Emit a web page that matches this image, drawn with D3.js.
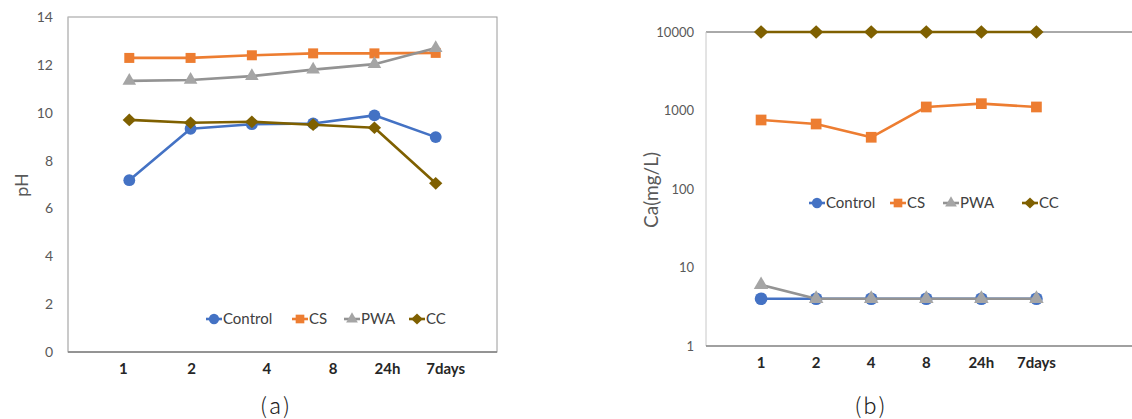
<!DOCTYPE html>
<html>
<head>
<meta charset="utf-8">
<script src="https://cdn.jsdelivr.net/npm/d3@7"></script>
<style>
  html, body { margin: 0; padding: 0; background: #fff; }
  svg { display: block; }
</style>
</head>
<body>
<svg id="chart" width="1132" height="419"></svg>
<script>
// ---- data ----
const categories = ["1", "2", "4", "8", "24h", "7days"];
const seriesNames = ["Control", "CS", "PWA", "CC"];
// (a) pH
const phControl = [7.18, 9.33, 9.52, 9.55, 9.89, 8.98];
const phCS      = [12.29, 12.29, 12.4, 12.48, 12.48, 12.5];
const phPWA     = [11.33, 11.37, 11.53, 11.8, 12.03, 12.7];
const phCC      = [9.7, 9.58, 9.62, 9.5, 9.37, 7.05];
// (b) Ca (mg/L)
const caControl = [4, 4, 4, 4, 4, 4];
const caCS      = [757, 673, 456, 1109, 1222, 1109];
const caPWA     = [6, 4, 4, 4, 4, 4];
const caCC      = [10000, 10000, 10000, 10000, 10000, 10000];
const phTicks = [0, 2, 4, 6, 8, 10, 12, 14];
const caTicks = [1, 10, 100, 1000, 10000];

// ---- styles ----
const diamond = {
  draw(ctx, size) {
    const r = Math.sqrt(size / 2);
    ctx.moveTo(0, -r); ctx.lineTo(r * 1.05, 0); ctx.lineTo(0, r); ctx.lineTo(-r * 1.05, 0); ctx.closePath();
  }
};
const colors = { Control: "#4472C4", CS: "#ED7D31", PWA: "#A5A5A5", CC: "#7F6000" };
const lineColors = { Control: "#4472C4", CS: "#ED7D31", PWA: "#939393", CC: "#7F6000" };
const symbols = { Control: d3.symbolCircle, CS: d3.symbolSquare, PWA: d3.symbolTriangle, CC: diamond };
const symSize = { Control: 110, CS: 100, PWA: 80, CC: 80 };
const labelDx = [-6, 1, 15, 20, 13, 10]; // (a) label offsets from points (layout)

const svg = d3.select("#chart");
const tickFont = "Lato, 'Open Sans', sans-serif";

function drawPanel(cfg) {
  const g = svg.append("g");
  const x = d3.scalePoint().domain(categories).range([cfg.left, cfg.right]).padding(cfg.pad);
  const y = cfg.y;

  // frame
  if (cfg.box) {
    g.append("rect").attr("x", cfg.left).attr("y", cfg.top)
      .attr("width", cfg.right - cfg.left).attr("height", cfg.bottom - cfg.top)
      .attr("fill", "none").attr("stroke", "#9a9a9a").attr("stroke-width", 1);
  } else {
    g.append("line").attr("x1", cfg.left).attr("x2", cfg.lineEnd)
      .attr("y1", cfg.top).attr("y2", cfg.top).attr("stroke", "#555").attr("stroke-width", 1);
  }
  g.append("line").attr("x1", cfg.left).attr("x2", cfg.left)
    .attr("y1", cfg.top).attr("y2", cfg.bottom).attr("stroke", "#c8c8c8").attr("stroke-width", 1);

  // y axis labels
  const yAxis = d3.axisLeft(y).tickValues(cfg.ticks).tickSize(0).tickPadding(cfg.tickPad)
    .tickFormat(d3.format("d"));
  const ya = g.append("g").attr("transform", `translate(${cfg.left},0)`).call(yAxis);
  ya.select(".domain").remove();
  ya.selectAll("text").attr("fill", "#595959").style("font-family", tickFont).style("font-size", cfg.yFont + "px");

  // bottom axis line
  g.append("line").attr("x1", cfg.left).attr("x2", cfg.lineEnd)
    .attr("y1", cfg.bottom).attr("y2", cfg.bottom).attr("stroke", "#808080").attr("stroke-width", 1.3);

  // x labels
  g.append("g").selectAll("text").data(categories).join("text")
    .attr("x", (d, i) => x(d) + (cfg.dx ? cfg.dx[i] : 0))
    .attr("y", cfg.bottom + cfg.xLabelOff)
    .attr("text-anchor", "middle")
    .attr("fill", "#262626")
    .style("font-family", tickFont).style("font-weight", "bold").style("font-size", "15px")
    .text(d => d);

  // series
  const line = d3.line().x((d, i) => x(categories[i])).y(d => y(d));
  cfg.series.forEach((vals, si) => {
    const name = seriesNames[si];
    g.append("path").datum(vals).attr("d", line).attr("fill", "none")
      .attr("stroke", lineColors[name]).attr("stroke-width", 2.6).attr("stroke-linejoin", "round");
    g.append("g").selectAll("path").data(vals).join("path")
      .attr("transform", (d, i) => `translate(${x(categories[i])},${y(d)})`)
      .attr("d", d3.symbol().type(symbols[name]).size(symSize[name] * cfg.symScale))
      .attr("fill", colors[name]);
  });

  // legend
  const lg = g.append("g");
  seriesNames.forEach((name, i) => {
    const lx = cfg.legendX[i], ly = cfg.legendY;
    lg.append("line").attr("x1", lx - 8).attr("x2", lx + 8).attr("y1", ly).attr("y2", ly)
      .attr("stroke", lineColors[name]).attr("stroke-width", 2.6);
    lg.append("path").attr("transform", `translate(${lx},${ly})`)
      .attr("d", d3.symbol().type(symbols[name]).size(symSize[name] * 0.75)).attr("fill", colors[name]);
    lg.append("text").attr("x", lx + 9).attr("y", ly).attr("dy", "0.35em")
      .attr("fill", "#404040").style("font-family", tickFont).style("font-size", "15px").text(name);
  });

  // y title
  g.append("text")
    .attr("transform", `translate(${cfg.titleX},${cfg.titleY}) rotate(-90)`)
    .attr("text-anchor", "middle").attr("dy", "0.35em")
    .attr("fill", "#595959").style("font-family", tickFont).style("font-size", cfg.titleFont + "px")
    .text(cfg.title);

  // caption
  g.append("text").attr("x", cfg.capX).attr("y", 414).attr("text-anchor", "middle")
    .attr("fill", "#222").style("font-family", "'Noto Sans CJK JP', sans-serif")
    .style("font-weight", "300").style("font-size", "22px").style("letter-spacing", "2px")
    .text(cfg.caption);
}

// (a)
drawPanel({
  left: 68, right: 497, top: 17, bottom: 352, lineEnd: 497, pad: 1, box: true,
  y: d3.scaleLinear().domain([0, 14]).range([352, 17]),
  ticks: phTicks, tickPad: 15, yFont: 14, dx: labelDx, xLabelOff: 22, symScale: 1,
  series: [phControl, phCS, phPWA, phCC],
  legendX: [214, 300, 352, 417], legendY: 319,
  title: "pH", titleX: 22, titleY: 185, titleFont: 18, caption: "(a)", capX: 276
});

// (b)
drawPanel({
  left: 706, right: 1091.5, top: 32, bottom: 346, lineEnd: 1132, pad: 1, box: false,
  y: d3.scaleLog().domain([1, 10000]).range([346, 32]),
  ticks: caTicks, tickPad: 12, yFont: 13, dx: null, xLabelOff: 22, symScale: 1.15,
  series: [caControl, caCS, caPWA, caCC],
  legendX: [817, 898, 951, 1030], legendY: 203,
  title: "Ca(mg/L)", titleX: 651, titleY: 190, titleFont: 19, caption: "(b)", capX: 871
});
</script>
</body>
</html>
